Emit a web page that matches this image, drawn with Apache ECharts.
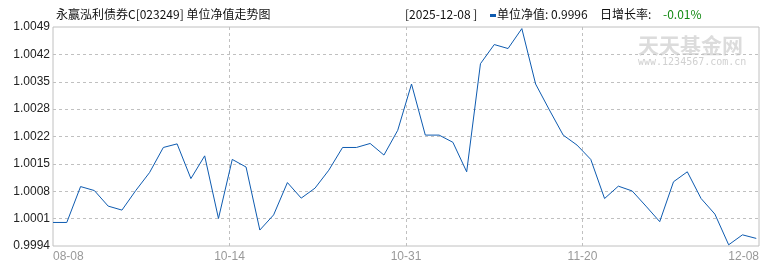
<!DOCTYPE html>
<html>
<head>
<meta charset="utf-8">
<script src="https://cdn.jsdelivr.net/npm/echarts@6/dist/echarts.min.js"></script>
<style>
html,body{margin:0;padding:0;background:#fff;}
#chart{width:770px;height:270px;}
</style>
</head>
<body>
<div id="chart"></div>
<script>
// ---- data ----
const dates = ['08-08','08-15','08-22','08-29','09-05','09-12','09-19','09-26','09-29','09-30','10-09','10-10','10-13','10-14',
  '10-15','10-16','10-17','10-20','10-21','10-22','10-23','10-24','10-27','10-28','10-29','10-30','10-31',
  '11-03','11-04','11-05','11-06','11-07','11-10','11-11','11-12','11-13','11-14','11-17','11-18','11-20',
  '11-21','11-24','11-25','11-26','11-27','11-28','12-01','12-02','12-03','12-04','12-05','12-08'];
const navValues = [1.00000,1.00000,1.00090,1.00080,1.00041,1.00031,1.00080,1.00125,1.00188,1.00197,
  1.00110,1.00167,1.00010,1.00158,1.00139,0.99981,1.00019,1.00100,1.00061,1.00086,
  1.00131,1.00188,1.00188,1.00198,1.00169,1.00231,1.00347,1.00219,1.00219,1.00201,
  1.00127,1.00398,1.00446,1.00436,1.00486,1.00347,1.00282,1.00219,1.00194,1.00158,
  1.00060,1.00091,1.00079,1.00041,1.00002,1.00102,1.00127,1.00060,1.00021,0.99944,
  0.99969,0.99960];
const xTickLabels = ['08-08','10-14','10-31','11-20','12-08'];
const yTickLabels = ['0.9994','1.0001','1.0008','1.0015','1.0022','1.0028','1.0035','1.0042','1.0049'];
const yMin = 0.99941, yMax = 1.0049;
const xMax = 51.2;
const titleText = '永赢泓利债券C[023249] 单位净值走势图';
const lastDate = '2025-12-08';
const lastNav = '0.9996';
const lastChange = '-0.01%';

const lineColor = '#0e5bb0';
const gridColor = '#c0c0c0';

const chart = echarts.init(document.getElementById('chart'), null, {renderer:'canvas'});
const seriesData = navValues.map((v, i) => [i, v]);

chart.setOption({
  animation: false,
  backgroundColor: '#fff',
  grid: {left: 53, right: 11, top: 27, bottom: 24, show: true, borderColor: gridColor, borderWidth: 1, backgroundColor: 'transparent'},
  xAxis: {
    type: 'value', min: 0, max: xMax, interval: xMax / 4,
    axisLine: {show: false}, axisTick: {show: false},
    splitLine: {show: true, showMinLine: false, showMaxLine: false, lineStyle: {color: gridColor, type: [3, 3], width: 1}},
    axisLabel: {
      margin: 5, color: '#999', fontSize: 12, fontFamily: 'Liberation Sans',
      alignMinLabel: 'left', alignMaxLabel: 'right',
      formatter: (v, i) => xTickLabels[i] || ''
    }
  },
  yAxis: {
    type: 'value', min: yMin, max: yMax, interval: (yMax - yMin) / 8,
    axisLine: {show: false}, axisTick: {show: false},
    splitLine: {show: true, showMinLine: false, showMaxLine: false, lineStyle: {color: gridColor, type: [3, 3], width: 1}},
    axisLabel: {
      margin: 3, color: '#222', fontSize: 12, fontFamily: 'Liberation Sans',
      formatter: (v, i) => yTickLabels[i] || ''
    }
  },
  series: [{
    type: 'line', data: seriesData, symbol: 'none', smooth: false,
    lineStyle: {color: lineColor, width: 1}
  }],
  graphic: [
    {type: 'text', left: 638, top: 35, z: 0, silent: true,
      style: {text: '天天基金网', font: 'bold 21px "Noto Sans CJK SC"', fill: '#dcdcdc'}},
    {type: 'text', left: 638, top: 57, z: 0, silent: true,
      style: {text: 'www.1234567.com.cn', font: '10px "DejaVu Sans Mono"', fill: '#d0d0d0'}},
    {type: 'text', left: 56, top: 8,
      style: {text: titleText, font: '12px "Noto Sans CJK SC"', fill: '#111'}},
    {type: 'text', left: 405, top: 8,
      style: {text: '[' + lastDate + ' ]', font: '12px "Noto Sans CJK SC"', fill: '#111'}},
    {type: 'rect', shape: {x: 490, y: 14, width: 6, height: 3}, style: {fill: lineColor}},
    {type: 'text', left: 497, top: 8,
      style: {text: '单位净值: ' + lastNav, font: '12px "Noto Sans CJK SC"', fill: '#111'}},
    {type: 'text', left: 600, top: 8,
      style: {text: '日增长率:', font: '12px "Noto Sans CJK SC"', fill: '#111'}},
    {type: 'text', left: 663, top: 8,
      style: {text: lastChange, font: '12px "Noto Sans CJK SC"', fill: '#138a13'}}
  ]
});
</script>
</body>
</html>
